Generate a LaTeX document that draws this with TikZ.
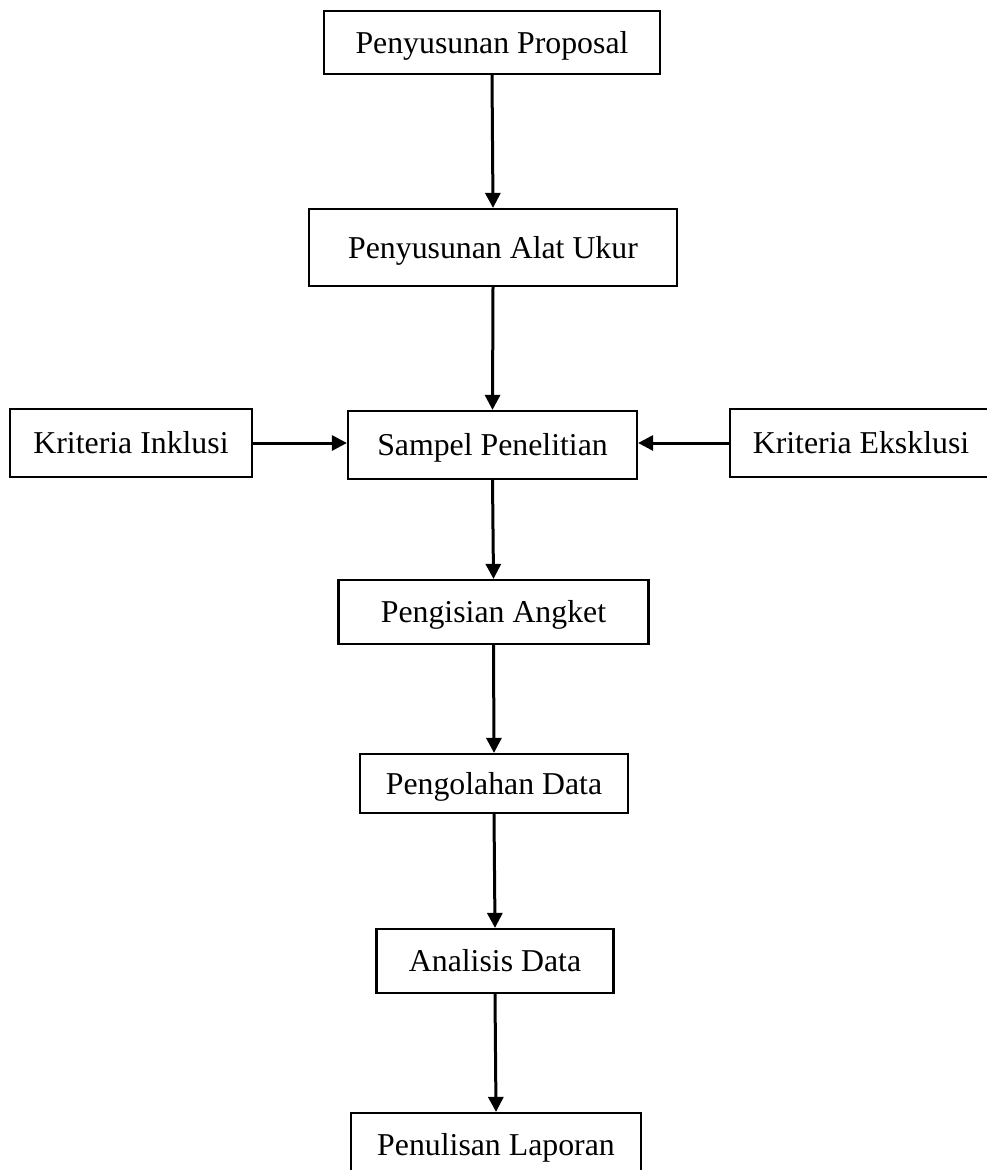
\documentclass[tikz,border=0pt]{standalone}
\usepackage{fontspec}
\setmainfont{Liberation Serif}
\usetikzlibrary{arrows.meta}
\begin{document}
\begin{tikzpicture}[x=1pt,y=-1pt,
  box/.style={draw=black,line width=2.2pt,inner sep=0pt,
    font=\fontsize{31.8}{38}\selectfont,text height=21pt,text depth=0pt,
    align=center},
  flow/.style={line width=3pt,-{Triangle[width=15pt,length=15pt]}}]
\clip (0,0) rectangle (987,1170);
\fill[white] (0,0) rectangle (987,1170);
\node[box,minimum width=336pt,minimum height=63pt] (prop) at (492,42.5) {Penyusunan Proposal};
\node[box,minimum width=368pt,minimum height=77pt] (alat) at (493,247.5) {Penyusunan Alat Ukur};
\node[box,minimum width=242pt,minimum height=68pt] (inkl) at (131,443) {Kriteria Inklusi};
\node[box,minimum width=289pt,minimum height=68pt] (samp) at (492.5,445) {Sampel Penelitian};
\node[box,minimum width=262pt,minimum height=68pt] (eksk) at (861,443) {Kriteria Eksklusi};
\node[box,minimum width=310pt,minimum height=64pt] (angk) at (493.5,612) {Pengisian Angket};
\node[box,minimum width=268pt,minimum height=59pt] (olah) at (494,783.5) {Pengolahan Data};
\node[box,minimum width=237pt,minimum height=64pt] (anal) at (495,961) {Analisis Data};
\node[box,minimum width=290pt,minimum height=64pt] (tulis) at (496,1145) {Penulisan Laporan};
\draw[flow] (prop.south) -- (alat.north);
\draw[flow] (alat.south) -- (samp.north);
\draw[flow] (inkl.east) -- (inkl.east -| samp.west);
\draw[flow] (eksk.west) -- (eksk.west -| samp.east);
\draw[flow] (samp.south) -- (angk.north);
\draw[flow] (angk.south) -- (olah.north);
\draw[flow] (olah.south) -- (anal.north);
\draw[flow] (anal.south) -- (tulis.north);
\end{tikzpicture}
\end{document}
